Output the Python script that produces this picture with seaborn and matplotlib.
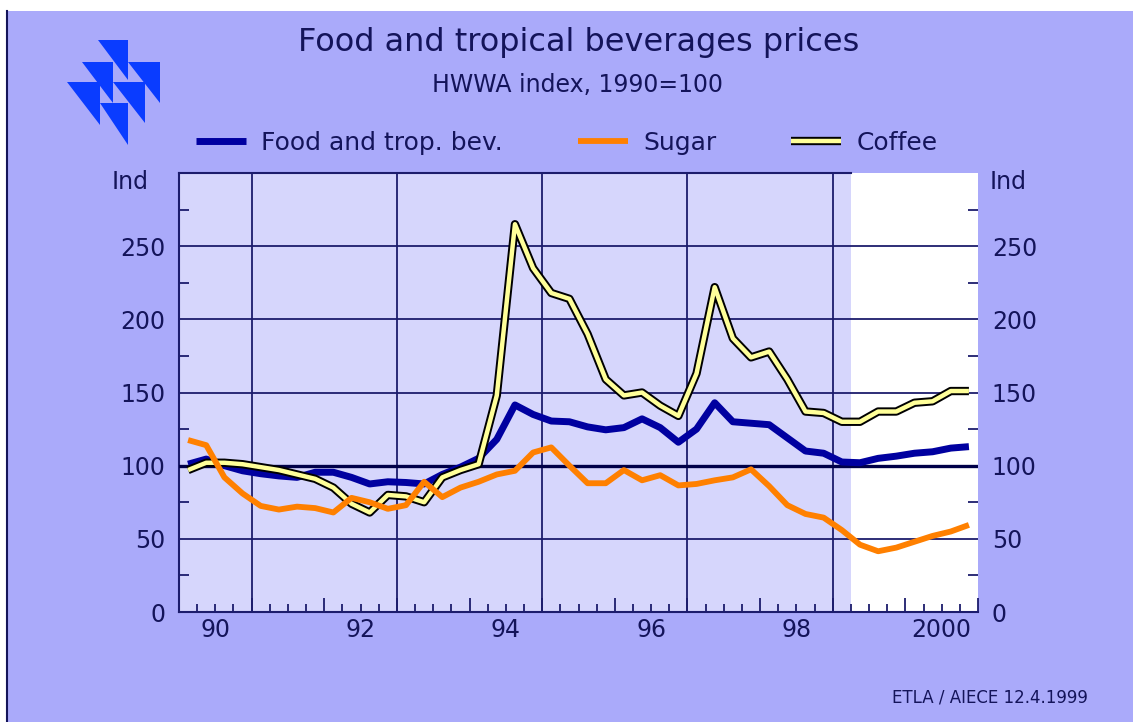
import numpy as np
import pandas as pd
import seaborn as sns
import matplotlib.pyplot as plt
import matplotlib.patheffects as pe
from matplotlib.patches import Rectangle, Polygon
from matplotlib.lines import Line2D
from matplotlib.ticker import MultipleLocator, FixedLocator

# quarterly data 1990Q1 .. 2000Q4 (index, 1990=100)
quarters = [f"{y}Q{q}" for y in range(1990, 2001) for q in range(1, 5)]

food = [101, 104.5, 100, 96.5, 94.5, 93, 92, 95.5, 95.5, 92, 87.5, 89,
        88.5, 87.5, 94, 99, 105, 118, 141.5, 135, 130.5, 130, 126.5, 124.5,
        126, 132, 126, 116, 125, 143, 130, 129, 128, 119, 110, 108.5,
        102.5, 102, 105, 106.5, 108.5, 109.5, 112, 113]

sugar = [117.5, 114, 92, 81, 72.5, 70, 72, 71, 68, 78, 75, 70.5,
         73, 89, 78.5, 85, 89, 94, 96.5, 109, 112.5, 100, 88, 88,
         97, 90, 93.5, 86.5, 87.5, 90, 92, 97.5, 86, 73, 67, 64.5,
         56, 46, 41.5, 44, 48, 52, 55, 59.5]

coffee = [97, 102, 102, 101, 99, 97, 94, 91, 85, 74, 68, 80,
          79, 75, 92, 97, 101, 148, 265, 235, 218, 214, 190, 159,
          148, 150, 141, 134, 163, 222, 187, 174, 178, 159, 137, 136,
          130, 130, 137, 137, 143, 144, 151, 151]

series_names = ["Food and trop. bev.", "Sugar", "Coffee"]
year_labels = ["90", "92", "94", "96", "98", "2000"]
forecast_start = 1999.25

# quarter mid-points as decimal years
t = [int(q[:4]) + (int(q[-1]) - 0.5) / 4 for q in quarters]

df = pd.DataFrame({
    "t": t * 3,
    "value": food + sugar + coffee,
    "series": np.repeat(series_names, len(t)),
})

panel = "#aaaafa"
light = "#d6d6fc"
ink = "#14145a"
grid_c = "#1c1c6c"

W, H = 1133, 722
fig = plt.figure(figsize=(W / 100, H / 100), dpi=100, facecolor="white")
plt.rcParams["font.family"] = ["DejaVu Sans"]

# lavender panel
fig.add_artist(Rectangle((7 / W, 0), 1 - 7 / W, 1 - 11 / H, transform=fig.transFigure,
                         facecolor=panel, edgecolor="none", zorder=0))
fig.add_artist(Line2D([7 / W, 7 / W], [0, 1 - 11 / H], transform=fig.transFigure,
                      color=ink, lw=1.5))

# logo triangles (pixel coords: top y, left x, right x, height)
tris = [(40, 98, 128, 40), (62, 82, 113, 41), (62, 128, 160, 41),
        (82, 67, 100, 43), (82, 113, 145, 41), (103, 100, 128, 42)]
for ty, lx, rx, h in tris:
    pts = [(lx / W, 1 - ty / H), (rx / W, 1 - ty / H), (rx / W, 1 - (ty + h) / H)]
    fig.add_artist(Polygon(pts, closed=True, transform=fig.transFigure,
                           facecolor="#0a3cff", edgecolor="none"))

ax = fig.add_axes([179 / W, 1 - 612 / H, (978 - 179) / W, (612 - 173) / H])
ax.set_facecolor("white")
ax.axvspan(1990, forecast_start, color=light, zorder=0, lw=0)

pal = {"Food and trop. bev.": "#0000a0", "Sugar": "#ff8000", "Coffee": "#ffff99"}
sns.lineplot(data=df, x="t", y="value", hue="series", palette=pal,
             hue_order=["Food and trop. bev.", "Coffee", "Sugar"],
             legend=False, ax=ax, zorder=5)
l_food, l_coffee, l_sugar = ax.lines[:3]
l_food.set_linewidth(5)
l_sugar.set_linewidth(4.2)
l_coffee.set_linewidth(3.2)
l_coffee.set_path_effects([pe.Stroke(linewidth=6, foreground="black"), pe.Normal()])
for ln in (l_food, l_sugar, l_coffee):
    ln.set_solid_capstyle("butt")
    ln.set_solid_joinstyle("round")

ax.set_xlim(1990, 2001)
ax.set_ylim(0, 300)
ax.set_xlabel("")
ax.set_ylabel("")

# grid
for yv in [50, 150, 200, 250]:
    ax.axhline(yv, color=grid_c, lw=1.3, zorder=2)
ax.axhline(100, color="#000048", lw=2.4, zorder=3)
for xv in [1991, 1993, 1995, 1997, 1999]:
    ax.axvline(xv, color=grid_c, lw=1.3, zorder=2)

# spines
for s in ["left", "bottom", "top"]:
    ax.spines[s].set_color(grid_c)
    ax.spines[s].set_linewidth(1.5)
ax.spines["right"].set_visible(False)
ax.spines["top"].set_bounds(1990, forecast_start)

# ticks
ax.xaxis.set_major_locator(MultipleLocator(1))
ax.xaxis.set_minor_locator(MultipleLocator(0.25))
ax.tick_params(axis="x", which="major", direction="in", length=10, width=1.3,
               color=grid_c, labelbottom=False)
ax.tick_params(axis="x", which="minor", direction="in", length=5.5, width=1.3,
               color=grid_c)
ax.yaxis.set_major_locator(FixedLocator([0, 50, 100, 150, 200, 250]))
ax.yaxis.set_minor_locator(FixedLocator([25, 75, 125, 175, 225, 275]))
ax.tick_params(axis="y", which="major", length=0, labelsize=17, labelcolor=ink,
               left=True, right=True, labelleft=True, labelright=True, pad=10)
ax.tick_params(axis="y", which="minor", direction="in", length=7, width=1.3,
               color=grid_c, left=True, right=True)

tr = ax.get_xaxis_transform()
for i, lab in enumerate(year_labels):
    ax.text(1990.5 + 2 * i, -0.042, lab, transform=tr, ha="center", va="center",
            fontsize=17, color=ink)

fig.text(130 / W, 1 - 182 / H, "Ind", ha="center", va="center", fontsize=17, color=ink)
fig.text(990 / W, 1 - 182 / H, "Ind", ha="left", va="center", fontsize=17, color=ink)

fig.text(579 / W, 1 - 42 / H, "Food and tropical beverages prices", ha="center",
         va="center", fontsize=23, color=ink)
fig.text(578 / W, 1 - 85 / H, "HWWA index, 1990=100", ha="center", va="center",
         fontsize=17, color=ink)
fig.text(1088 / W, 1 - 698 / H, "ETLA / AIECE 12.4.1999", ha="right", va="center",
         fontsize=12, color=ink)

fig.legend(handles=[l_food, l_sugar, l_coffee], labels=series_names,
           loc="center", bbox_to_anchor=(567 / W, 1 - 143 / H), ncol=3,
           frameon=False, fontsize=18, labelcolor=ink, handlelength=2.0,
           handletextpad=0.6, columnspacing=3.0)

fig.savefig("out.png", dpi=100, facecolor="white")
